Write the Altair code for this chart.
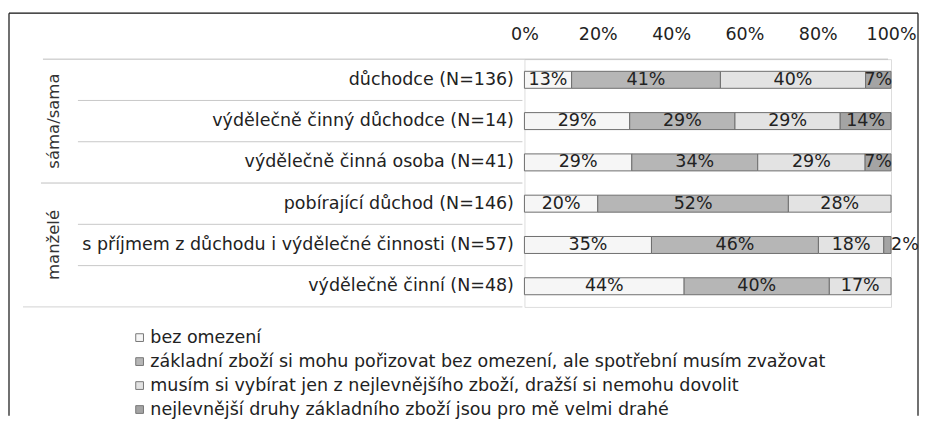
import altair as alt
import pandas as pd

categories = [
    "bez omezení",
    "základní zboží si mohu pořizovat bez omezení, ale spotřební musím zvažovat",
    "musím si vybírat jen z nejlevnějšího zboží, dražší si nemohu dovolit",
    "nejlevnější druhy základního zboží jsou pro mě velmi drahé",
]
rows = [
    "důchodce (N=136)",
    "výdělečně činný důchodce (N=14)",
    "výdělečně činná osoba (N=41)",
    "pobírající důchod (N=146)",
    "s příjmem z důchodu i výdělečné činnosti (N=57)",
    "výdělečně činní (N=48)",
]
groups = ["sáma/sama", "sáma/sama", "sáma/sama", "manželé", "manželé", "manželé"]
v_bez = [13, 29, 29, 20, 35, 44]
v_zakl = [41, 29, 34, 52, 46, 40]
v_musim = [40, 29, 29, 28, 18, 17]
v_nejl = [7, 14, 7, 0, 2, 0]
tick_values = [0, 0.2, 0.4, 0.6, 0.8, 1.0]

fills = ["#f6f6f6", "#b6b6b6", "#e3e3e3", "#a4a4a4"]
FONT = "DejaVu Sans"
FS = 17.5
W, H = 367, 248

series = [v_bez, v_zakl, v_musim, v_nejl]
recs = []
for i, r in enumerate(rows):
    for j, c in enumerate(categories):
        if series[j][i] > 0:
            recs.append({"row": r, "cat": c, "catorder": j, "value": series[j][i]})
df = pd.DataFrame(recs)

rdf = pd.DataFrame({"row": rows, "group": groups})
rdf["first"] = [i == 0 or groups[i] != groups[i - 1] for i in range(len(rows))]
gsize = {g: groups.count(g) for g in groups}
gstart = {g: groups.index(g) for g in groups}
rdf["middle"] = [i == gstart[g] + gsize[g] // 2 for i, g in enumerate(groups)]

yenc = alt.Y("row:N", sort=rows, scale=alt.Scale(domain=rows), axis=alt.Axis(
    title=None, domain=False, ticks=False, labelFontSize=FS, labelFont=FONT,
    labelColor="#222", labelPadding=11, labelLimit=0))
yedge = alt.Y("row:N", sort=rows, bandPosition=0)

base = alt.Chart(df).transform_stack(
    stack="value", as_=["start", "end"], groupby=["row"], offset="normalize",
    sort=[alt.SortField("catorder", order="ascending")]
).transform_calculate(
    lx="datum.value < 5 ? datum.end + 0.038 : (datum.start + datum.end) / 2",
    label="datum.value + '%'",
)

bars = base.mark_bar(size=17, stroke="#6e6e6e", strokeWidth=1).encode(
    x=alt.X("start:Q", scale=alt.Scale(domain=[0, 1], nice=False), axis=alt.Axis(
        orient="top", values=tick_values, format=".0%", title=None, ticks=False,
        domain=False, grid=False, labelFontSize=FS, labelFont=FONT,
        labelColor="#222", labelPadding=16, labelFlush=False)),
    x2="end:Q",
    y=yenc,
    color=alt.Color("cat:N", scale=alt.Scale(domain=categories, range=fills),
                    legend=alt.Legend(
                        title=None, orient="none", legendX=-394, legendY=270,
                        direction="vertical", symbolType="square", symbolSize=60,
                        symbolStrokeColor="#777", symbolStrokeWidth=1,
                        symbolOpacity=1, labelFontSize=FS, labelFont=FONT,
                        labelColor="#222", rowPadding=5, labelLimit=0,
                        padding=0, offset=0, labelOffset=2)),
)

texts = base.mark_text(fontSize=FS, font=FONT, color="#222").encode(
    x="lx:Q", y=alt.Y("row:N", sort=rows), text="label:N")

rbase = alt.Chart(rdf)
inner = rbase.transform_filter("!datum.first").mark_rule(color="#c8c8c8", strokeWidth=1).encode(
    y=yedge, x=alt.value(-447), x2=alt.value(-2))
gsep = rbase.transform_filter("datum.first && datum.row != '%s'" % rows[0]).mark_rule(
    color="#c0c0c0", strokeWidth=1).encode(y=yedge, x=alt.value(-484), x2=alt.value(-2))
gtext = rbase.transform_filter("datum.middle").mark_text(
    angle=270, fontSize=16.5, font=FONT, color="#333").encode(
    y=alt.Y("row:N", sort=rows), x=alt.value(-471), text="group:N")

one = alt.Chart(pd.DataFrame({"k": [0]}))
top_line = one.mark_rule(color="#bdbdbd").encode(y=alt.value(0), x=alt.value(-482), x2=alt.value(364))
bottom_line = one.mark_rule(color="#d2d2d2").encode(y=alt.value(H), x=alt.value(-502), x2=alt.value(-2))
b_top = one.mark_rule(color="#111", strokeWidth=1.2).encode(y=alt.value(-46), x=alt.value(-516), x2=alt.value(394))
b_left = one.mark_rule(color="#111", strokeWidth=1.2).encode(x=alt.value(-516), y=alt.value(-46), y2=alt.value(357))
b_right = one.mark_rule(color="#111", strokeWidth=1.2).encode(x=alt.value(394), y=alt.value(-46), y2=alt.value(357))

chart = alt.layer(
    inner, gsep, top_line, bottom_line, bars, texts, gtext, b_top, b_left, b_right
).properties(
    width=W, height=H, padding={"left": 0, "top": 4, "right": 0, "bottom": 0}
).configure_view(stroke=None).configure(background="white")

chart.save("out.html", embed_options={"renderer": "svg", "actions": False})
